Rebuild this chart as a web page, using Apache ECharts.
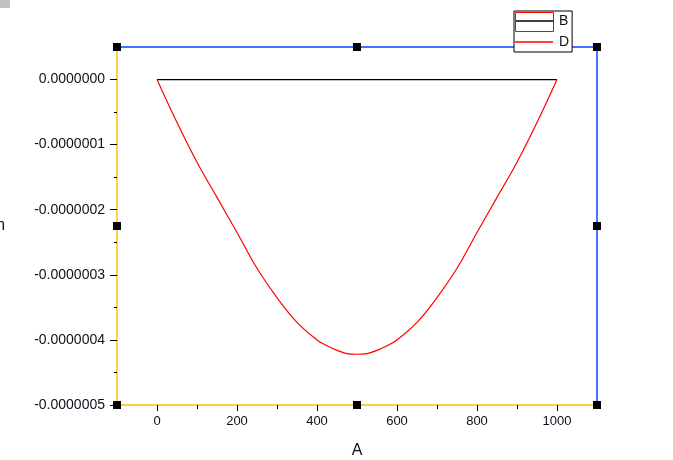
<!DOCTYPE html>
<html>
<head>
<meta charset="utf-8">
<script src="https://cdn.jsdelivr.net/npm/echarts@6/dist/echarts.min.js"></script>
<style>
  html, body { margin: 0; padding: 0; background: #fff; }
  #chart { width: 673px; height: 460px; }
</style>
</head>
<body>
<div id="chart"></div>
<script>
// values
var xValues = [0, 50, 100, 150, 200, 250, 300, 350, 400, 425, 450, 475, 500,
               525, 550, 575, 600, 650, 700, 750, 800, 850, 900, 950, 1000];
var dValues = [0, -0.66e-7, -1.27e-7, -1.81e-7, -2.35e-7, -2.90e-7, -3.35e-7, -3.73e-7, -4.00e-7,
               -4.09e-7, -4.16e-7, -4.21e-7, -4.22e-7, -4.21e-7, -4.16e-7, -4.09e-7,
               -4.00e-7, -3.73e-7, -3.35e-7, -2.90e-7, -2.35e-7, -1.81e-7, -1.27e-7, -0.66e-7, 0];
var bX = [0, 1000];
var bValues = [0, 0];

var xMajorTicks = [0, 200, 400, 600, 800, 1000];
var xMinorTicks = [100, 300, 500, 700, 900];
var yMajorTicks = [0, -1e-7, -2e-7, -3e-7, -4e-7, -5e-7];
var yMinorTicks = [-0.5e-7, -1.5e-7, -2.5e-7, -3.5e-7, -4.5e-7];

var gLeft = 117, gTop = 47, gW = 480, gH = 358;
var yellow = '#FFC000', blue = '#0a46ff', txt = '#10101c';
var font = 'Liberation Sans, Arial, sans-serif';

function pairs(xs, ys) {
  var out = [];
  for (var i = 0; i < xs.length; i++) out.push([xs[i], ys[i]]);
  return out;
}

// selection handles round the frame
var handles = [];
[[0, 0], [0.5, 0], [1, 0], [0, 0.5], [1, 0.5], [0, 1], [0.5, 1], [1, 1]].forEach(function (p) {
  handles.push({
    type: 'rect', z: 100,
    shape: { x: gLeft + p[0] * gW - 4, y: gTop + p[1] * gH - 4, width: 8, height: 8 },
    style: { fill: '#000' }
  });
});

var chart = echarts.init(document.getElementById('chart'));
chart.setOption({
  animation: false,
  textStyle: { fontFamily: font },
  grid: [
    { left: gLeft, top: gTop, width: gW, height: gH, outerBoundsMode: 'none', containLabel: false },
    { left: gLeft, top: gTop, width: gW, height: gH, outerBoundsMode: 'none', containLabel: false }
  ],
  legend: {
    left: 514, top: 11, orient: 'vertical',
    padding: [3, 3, 3, 1], itemGap: 7, itemWidth: 38, itemHeight: 1.5, icon: 'rect',
    backgroundColor: '#fff', borderColor: '#000', borderWidth: 1,
    textStyle: { color: txt, fontSize: 14, fontFamily: font, padding: [0, 0, 0, 1] },
    data: ['B', 'D']
  },
  xAxis: [
    {
      gridIndex: 0, type: 'value', position: 'bottom', min: -100, max: 1100,
      name: 'A', nameLocation: 'middle', nameGap: 38,
      nameTextStyle: { color: txt, fontSize: 16, fontFamily: font },
      axisLine: { onZero: false, lineStyle: { color: yellow, width: 1.5 } },
      axisTick: { customValues: xMajorTicks, length: 6, lineStyle: { color: '#000' } },
      axisLabel: { customValues: xMajorTicks, color: txt, fontSize: 13, margin: 10,
                   formatter: function (v) { return String(v); } },
      splitLine: { show: false }
    },
    {
      gridIndex: 0, type: 'value', position: 'top', min: -100, max: 1100,
      axisLine: { show: true, onZero: false, lineStyle: { color: blue, width: 1.5, opacity: 1 } },
      axisTick: { show: false }, axisLabel: { show: false }, splitLine: { show: false }
    },
    {
      gridIndex: 1, type: 'value', position: 'bottom', min: -100, max: 1100,
      axisLine: { show: false, onZero: false },
      axisTick: { customValues: xMinorTicks, length: 4, lineStyle: { color: '#000' } },
      axisLabel: { show: false }, splitLine: { show: false }
    }
  ],
  yAxis: [
    {
      gridIndex: 0, type: 'value', position: 'left', min: -5e-7, max: 0.5e-7,
      name: 'm', nameLocation: 'middle', nameGap: 112, nameRotate: 0,
      nameTextStyle: { color: txt, fontSize: 16, fontFamily: font },
      axisLine: { onZero: false, lineStyle: { color: yellow, width: 1.5 } },
      axisTick: { customValues: yMajorTicks, length: 7, lineStyle: { color: '#000' } },
      axisLabel: {
        customValues: yMajorTicks, color: txt, fontSize: 14, margin: 12,
        formatter: function (v) {
          if (Math.abs(v) < 1e-12) v = 0;
          return v.toFixed(7);
        }
      },
      splitLine: { show: false }
    },
    {
      gridIndex: 0, type: 'value', position: 'right', min: -5e-7, max: 0.5e-7,
      axisLine: { show: true, onZero: false, lineStyle: { color: blue, width: 1.5, opacity: 1 } },
      axisTick: { show: false }, axisLabel: { show: false }, splitLine: { show: false }
    },
    {
      gridIndex: 1, type: 'value', position: 'left', min: -5e-7, max: 0.5e-7,
      axisLine: { show: false, onZero: false },
      axisTick: { customValues: yMinorTicks, length: 3, lineStyle: { color: '#000' } },
      axisLabel: { show: false }, splitLine: { show: false }
    }
  ],
  series: [
    {
      name: 'B', type: 'line', xAxisIndex: 0, yAxisIndex: 0,
      data: pairs(bX, bValues), symbol: 'none',
      lineStyle: { color: '#000', width: 1.2 }, itemStyle: { color: '#000' }
    },
    {
      name: 'D', type: 'line', xAxisIndex: 0, yAxisIndex: 0,
      data: pairs(xValues, dValues), symbol: 'none', smooth: 0.4,
      lineStyle: { color: '#ff0000', width: 1.2 }, itemStyle: { color: '#ff0000' }
    }
  ],
  graphic: handles.concat([
    {
      type: 'rect', z: 101,
      shape: { x: 515.5, y: 12.5, width: 38, height: 19 },
      style: { fill: null, stroke: '#ff0000', lineWidth: 1 }
    },
    {
      type: 'rect', z: 101,
      shape: { x: 0, y: 0, width: 10, height: 8 },
      style: { fill: '#c0c0c0' }
    }
  ])
});
</script>
</body>
</html>
